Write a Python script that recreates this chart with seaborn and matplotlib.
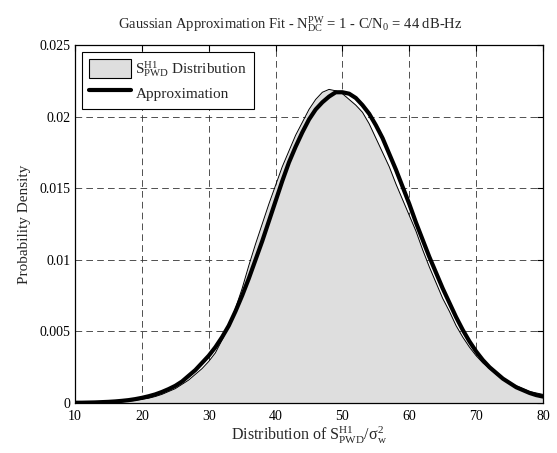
import numpy as np
import pandas as pd
import matplotlib
matplotlib.use("Agg")
import matplotlib.pyplot as plt
import seaborn as sns
from matplotlib.patches import Patch
from matplotlib.lines import Line2D

# ---- data ----
dist_x = list(range(10, 81))
dist_y = [0.0000, 0.0000, 0.0000, 0.00001, 0.00002, 0.00003, 0.00005, 0.00008, 0.00012, 0.00018,
          0.00026, 0.00033, 0.00045, 0.0006, 0.0008, 0.0010, 0.0013, 0.0016, 0.0020, 0.0024,
          0.0029, 0.0035, 0.0044, 0.0054, 0.0066, 0.0080, 0.0096, 0.0111, 0.0125, 0.0139,
          0.0152, 0.0165, 0.0176, 0.0187, 0.0196, 0.0205, 0.0212, 0.0217, 0.0219, 0.0218,
          0.0216, 0.0212, 0.0208, 0.0203, 0.0195, 0.0185, 0.0175, 0.0165, 0.0153, 0.0142,
          0.0131, 0.0120, 0.0107, 0.0095, 0.0084, 0.0073, 0.0064, 0.0054, 0.0046, 0.0039,
          0.0033, 0.0028, 0.0024, 0.0020, 0.0017, 0.0014, 0.0012, 0.0010, 0.0008, 0.0007,
          0.0006]

approx_x = list(range(10, 81))
approx_y = [0.00002, 0.00002, 0.00003, 0.00004, 0.00006, 0.00008, 0.00011, 0.00015, 0.0002, 0.00027,
            0.00036, 0.00047, 0.0006, 0.00077, 0.00097, 0.0012, 0.0015, 0.0019, 0.0023, 0.0028,
            0.0033, 0.0039, 0.0046, 0.0054, 0.0064, 0.0075, 0.0087, 0.0100, 0.0113, 0.0127,
            0.0141, 0.0155, 0.0168, 0.0179, 0.0189, 0.0198, 0.0205, 0.0210, 0.0214, 0.0217,
            0.0217, 0.0216, 0.0213, 0.0208, 0.0202, 0.0194, 0.0185, 0.0174, 0.0163, 0.0151,
            0.0139, 0.0126, 0.0114, 0.0102, 0.0091, 0.0080, 0.0070, 0.0060, 0.0051, 0.0043,
            0.0036, 0.0030, 0.0025, 0.0021, 0.0017, 0.0014, 0.0011, 0.0009, 0.0007, 0.00055,
            0.00045]

x_ticks = [10, 20, 30, 40, 50, 60, 70, 80]
y_ticks = [0, 0.005, 0.01, 0.015, 0.02, 0.025]
y_tick_labels = ["0", "0.005", "0.01", "0.015", "0.02", "0.025"]

title = r"Gaussian Approximation Fit - $\mathrm{N_{DC}^{PW}}$ = 1 - C/N$\mathrm{_0}$ = 44 dB-Hz"
xlabel = r"Distribution of $\mathrm{S_{PWD}^{H1}/\sigma_w^2}$"
ylabel = "Probability Density"
leg_dist = r"$\mathrm{S_{PWD}^{H1}}$ Distribution"
leg_approx = "Approximation"

# ---- style ----
sns.set_theme(style="white")
plt.rcParams["font.family"] = ["Liberation Serif", "DejaVu Serif"]
plt.rcParams["mathtext.fontset"] = "custom"
plt.rcParams["mathtext.rm"] = "Liberation Serif"
plt.rcParams["mathtext.it"] = "Liberation Serif:italic"
plt.rcParams["mathtext.bf"] = "Liberation Serif:bold"

fig = plt.figure(figsize=(5.57, 4.53), dpi=100)
ax = fig.add_axes([75 / 557, 1 - 403 / 453, (543 - 75) / 557, (403 - 45) / 453])

df_d = pd.DataFrame({"x": dist_x, "y": dist_y})
df_a = pd.DataFrame({"x": approx_x, "y": approx_y})

ax.fill_between(df_d["x"], 0, df_d["y"], color="#dedede", zorder=2, linewidth=0)
sns.lineplot(data=df_d, x="x", y="y", ax=ax, color="black", linewidth=0.7, zorder=3)
sns.lineplot(data=df_a, x="x", y="y", ax=ax, color="black", linewidth=3.0, zorder=4)

ax.set_xlim(10, 80)
ax.set_ylim(0, 0.025)
ax.set_xticks(x_ticks)
ax.set_yticks(y_ticks)
ax.set_yticklabels(y_tick_labels)
ax.set_axisbelow(True)
ax.grid(True, color="0.2", linestyle=(0, (8, 5)), linewidth=0.6)

ax.tick_params(direction="in", length=4, width=0.8, top=True, right=True,
               labelsize=10, colors="black", pad=3)
ax.tick_params(axis="x", pad=5)
for s in ax.spines.values():
    s.set_visible(True)
    s.set_color("black")
    s.set_linewidth(0.9)

ax.set_title(title, fontsize=10.5, pad=12, x=0.46)
ax.set_xlabel(xlabel, fontsize=11.5, labelpad=1)
ax.set_ylabel(ylabel, fontsize=11, labelpad=6)

handles = [Patch(facecolor="#dedede", edgecolor="black", linewidth=0.8, label=leg_dist),
           Line2D([0], [0], color="black", linewidth=3.0, label=leg_approx)]
leg = ax.legend(handles=handles, loc="upper left", fontsize=11, frameon=True,
                fancybox=False, edgecolor="black", framealpha=1,
                borderaxespad=0.45, handlelength=2.75, handleheight=1.6, borderpad=0.45,
                labelspacing=0.25, handletextpad=0.3)
leg.get_frame().set_linewidth(0.8)

fig.savefig("out.png", dpi=100)
